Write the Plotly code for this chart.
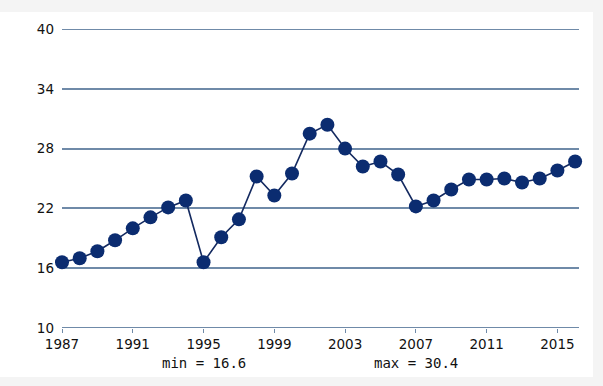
import plotly.graph_objects as go

years = list(range(1987, 2017))
values = [16.6, 17.0, 17.7, 18.8, 20.0, 21.1, 22.1, 22.8, 16.6, 19.1,
          20.9, 25.2, 23.3, 25.5, 29.5, 30.4, 28.0, 26.2, 26.7, 25.4,
          22.2, 22.8, 23.9, 24.9, 24.9, 25.0, 24.6, 25.0, 25.8, 26.7]
x_ticks = [1987, 1991, 1995, 1999, 2003, 2007, 2011, 2015]
y_ticks = [10, 16, 22, 28, 34, 40]
min_label = "min = 16.6"
max_label = "max = 30.4"

W, H = 603, 386
L, R, T, B = 62, 24, 29, 58

grid = "#6f8aa8"
navy = "#0b2c70"

fig = go.Figure()

pw = W - L - R
ph = H - T - B
def px(xp):
    return (xp - L) / pw
def py(yp):
    return (H - B - yp) / ph

fig.add_shape(type="rect", xref="paper", yref="paper",
              x0=px(-2), x1=px(593), y0=py(377), y1=py(12),
              fillcolor="white", line=dict(width=0), layer="below")
# edge gridlines (plotly skips grid lines at the range ends)
for yv in (y_ticks[0], y_ticks[-1]):
    fig.add_shape(type="line", xref="paper", yref="y", x0=0, x1=1, y0=yv, y1=yv,
                  line=dict(color=grid, width=1.8), layer="below")

fig.add_trace(go.Scatter(
    x=years, y=values, mode="lines+markers",
    line=dict(color="#142a60", width=1.6),
    marker=dict(color=navy, size=14, line=dict(width=0)),
    cliponaxis=False, showlegend=False, hoverinfo="skip",
))

for lbl, xv in ((min_label, 1995), (max_label, 2007)):
    fig.add_annotation(text=lbl, x=xv, xref="x", y=py(363), yref="paper",
                       showarrow=False,
                       font=dict(family="DejaVu Sans Mono", size=14, color="#111"),
                       xanchor="center", yanchor="middle")

fig.update_layout(
    width=W, height=H,
    margin=dict(l=L, r=R, t=T, b=B),
    paper_bgcolor="#f4f4f4", plot_bgcolor="white",
    font=dict(family="DejaVu Sans", size=13, color="#111"),
)
fig.update_xaxes(range=[1987, 2016.22], tickvals=x_ticks, showgrid=False,
                 zeroline=False, showline=False, ticks="outside", ticklen=4,
                 tickcolor=grid, tickwidth=1, tickfont=dict(size=13.5))
fig.update_yaxes(range=[10, 40], tickvals=y_ticks, showgrid=True, gridcolor=grid,
                 gridwidth=1.8, zeroline=False, showline=False, ticks="",
                 ticklabelstandoff=7, tickfont=dict(size=13.5))

fig.write_html("out.html", config={"displayModeBar": False},
               post_script="document.body.style.margin='0';document.body.style.overflow='hidden';")
